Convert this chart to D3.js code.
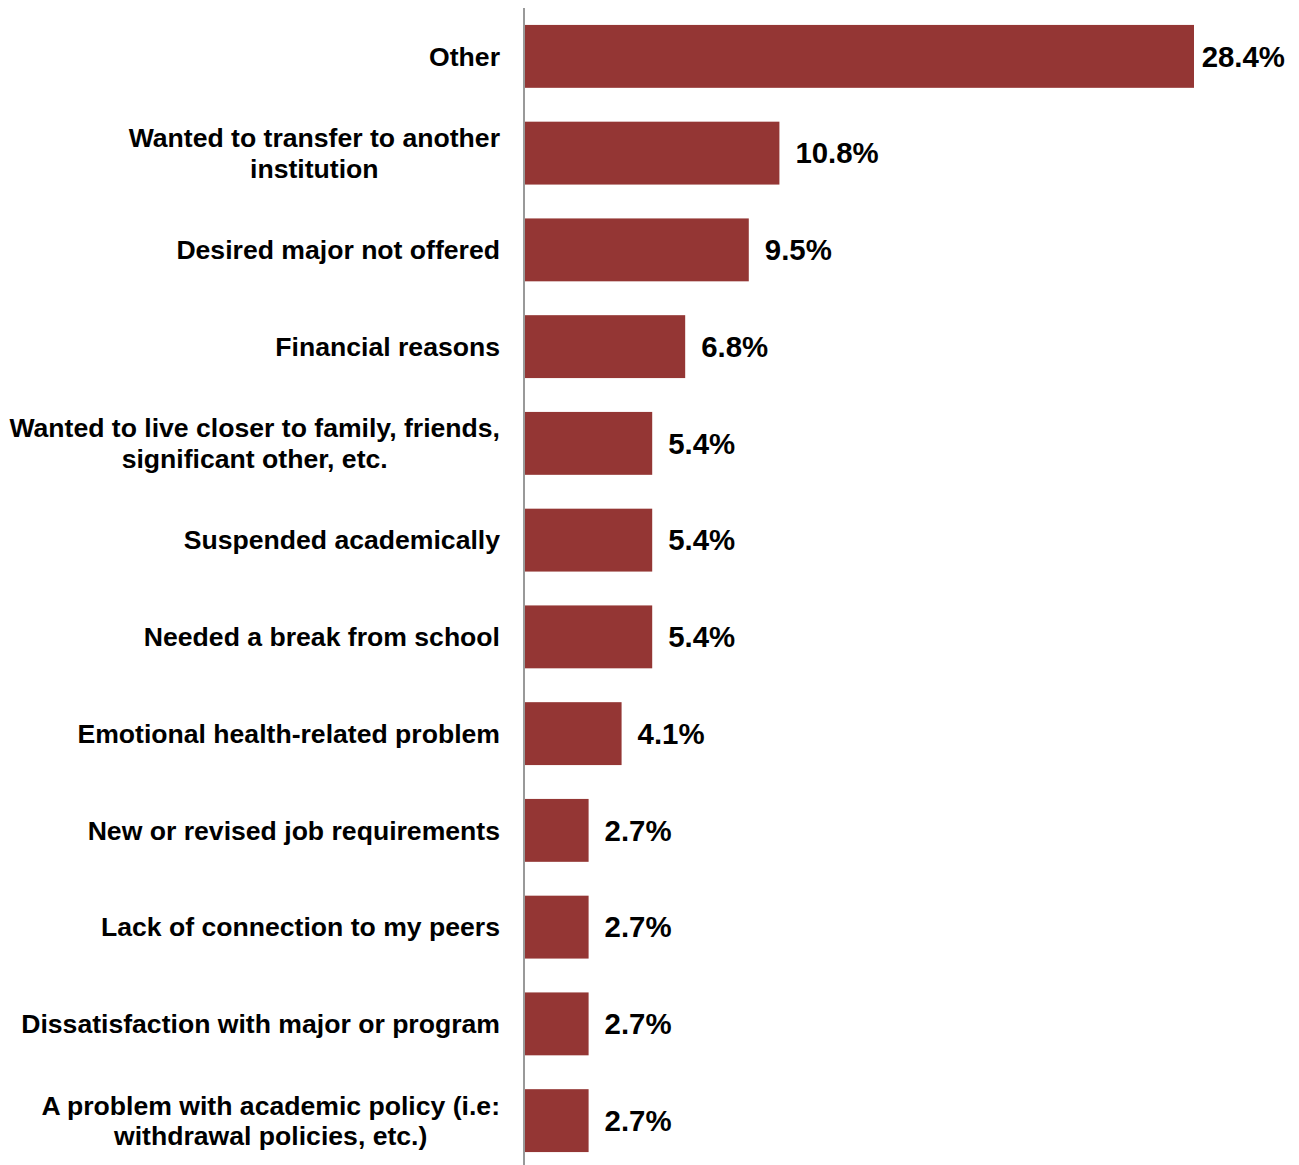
<!DOCTYPE html>
<html><head><meta charset="utf-8">
<script src="https://cdn.jsdelivr.net/npm/d3@7"></script>
<style>body{margin:0;background:#fff}svg{display:block}</style>
</head><body>
<script>
const categories = [
  "Other",
  "Wanted to transfer to another\ninstitution",
  "Desired major not offered",
  "Financial reasons",
  "Wanted to live closer to family, friends,\nsignificant other, etc.",
  "Suspended academically",
  "Needed a break from school",
  "Emotional health-related problem",
  "New or revised job requirements",
  "Lack of connection to my peers",
  "Dissatisfaction with major or program",
  "A problem with academic policy (i.e:\nwithdrawal policies, etc.)"
];
const values = [28.4, 10.8, 9.5, 6.8, 5.4, 5.4, 5.4, 4.1, 2.7, 2.7, 2.7, 2.7];
const valueLabels = ["28.4%","10.8%","9.5%","6.8%","5.4%","5.4%","5.4%","4.1%","2.7%","2.7%","2.7%","2.7%"];

const W = 1299, H = 1165;
const svg = d3.select("body").append("svg").attr("width", W).attr("height", H);
const x0 = 525;
const x = d3.scaleLinear().domain([0, 28.4]).range([x0, 1194]);
const y = d3.scaleBand().domain(categories).range([8, 1169]).paddingInner(0.35).paddingOuter(0.175);

svg.append("g").selectAll("rect").data(values).join("rect")
  .attr("x", x(0)).attr("y", (d,i)=>y(categories[i]))
  .attr("width", d=>x(d)-x(0)).attr("height", y.bandwidth())
  .attr("fill", "#943634");

svg.append("line").attr("x1", x0-1).attr("x2", x0-1).attr("y1", 8).attr("y2", H)
  .attr("stroke", "#999").attr("stroke-width", 2);

const font = "Liberation Sans, Arial, sans-serif";
const lg = svg.append("g");
categories.forEach((c,i)=>{
  const lines = c.split("\n");
  const cy = y(c) + y.bandwidth()/2;
  const t = lg.append("text").attr("font-family", font).attr("font-weight","bold")
    .attr("font-size", 26.6).attr("fill","#000");
  const lh = 30.5;
  const spans = lines.map((l,k)=>t.append("tspan").text(l)
    .attr("y", cy + (k - (lines.length-1)/2)*lh).attr("dy","0.35em"));
  const widths = spans.map(s=>s.node().getComputedTextLength());
  const maxW = Math.max(...widths);
  const right = 500;
  spans.forEach((s,k)=>s.attr("x", right - maxW/2).attr("text-anchor","middle"));
});

const vg = svg.append("g");
values.forEach((v,i)=>{
  const cy = y(categories[i]) + y.bandwidth()/2;
  const t = vg.append("text").attr("font-family", font).attr("font-weight","bold")
    .attr("font-size", 29.4).attr("fill","#000").attr("y", cy).attr("dy","0.35em")
    .text(valueLabels[i]);
  const w = t.node().getComputedTextLength();
  t.attr("x", Math.min(x(v)+16, 1285 - w));
});
</script>
</body></html>
